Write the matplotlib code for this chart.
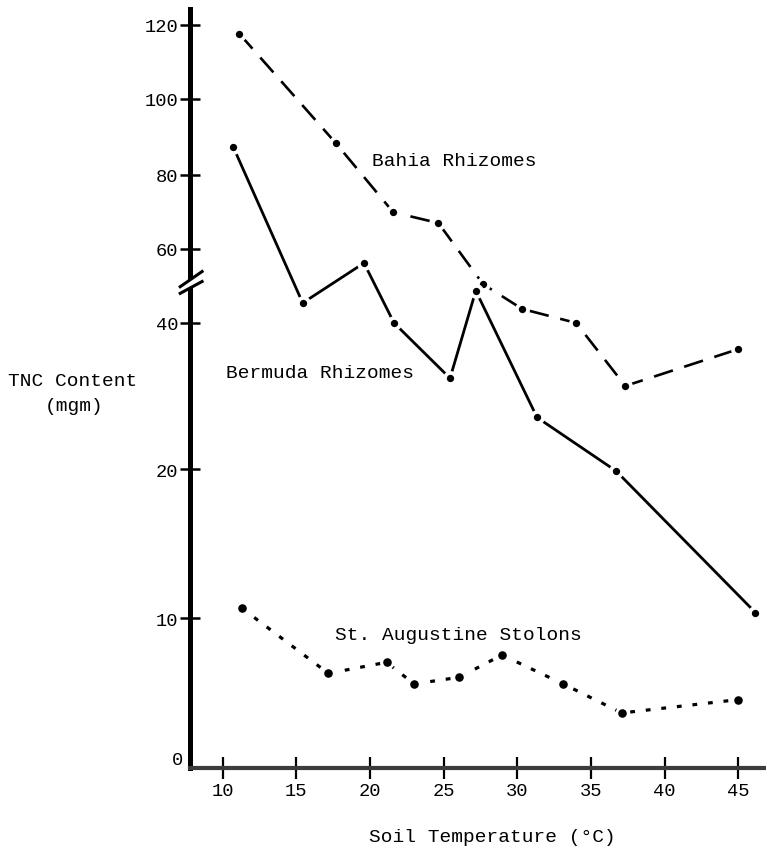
import numpy as np
import matplotlib
matplotlib.use("Agg")
import matplotlib.pyplot as plt
from matplotlib.lines import Line2D

# ---------------- data ----------------
bahia_x = [11.13, 17.67, 21.58, 24.64, 27.67, 30.32, 33.99, 37.33, 44.96]
bahia_y = [117.6, 88.4, 69.9, 67.0, 50.5, 43.8, 40.0, 31.4, 36.4]

bermuda_x = [10.72, 15.43, 19.59, 21.63, 25.43, 27.18, 31.34, 36.70, 46.16]
bermuda_y = [87.3, 45.4, 56.2, 40.0, 32.45, 48.7, 27.1, 19.9, 10.4]

staug_x = [11.29, 17.17, 21.13, 22.99, 26.06, 28.96, 33.12, 37.09, 44.96]
staug_y = [10.7, 6.33, 7.07, 5.62, 6.07, 7.56, 5.62, 3.68, 4.57]

x_ticks = [10, 15, 20, 25, 30, 35, 40, 45]
y_ticks = [10, 20, 40, 60, 80, 100, 120]

series_labels = ["Bahia Rhizomes", "Bermuda Rhizomes", "St. Augustine Stolons"]

# ---------------- broken / piecewise y-axis scale ----------------
VAL_ANCH = np.array([-100, 0, 10, 20, 40, 60, 80, 100, 120, 300], dtype=float)
POS_ANCH = np.array([-1495, 0, 149.5, 298.5, 445, 519, 593, 669, 743, 1409], dtype=float)

def fwd(v):
    return np.interp(v, VAL_ANCH, POS_ANCH)

def inv(p):
    return np.interp(p, POS_ANCH, VAL_ANCH)

MONO = ["Liberation Mono", "DejaVu Sans Mono"]
plt.rcParams["font.family"] = MONO

W, H = 766, 854
fig = plt.figure(figsize=(W / 100, H / 100), dpi=100)
fig.patch.set_facecolor("white")

ax_left, ax_right, ax_top, ax_bot = 190, 766, 10, 769
ax = fig.add_axes([ax_left / W, (H - ax_bot) / H, (ax_right - ax_left) / W, (ax_bot - ax_top) / H])
ax.set_yscale("function", functions=(fwd, inv))
ax.set_xlim(7.78, 46.88)
ax.set_ylim(0, 124.3)

for s in ["top", "right"]:
    ax.spines[s].set_visible(False)
ax.spines["left"].set_linewidth(3.6)
ax.spines["left"].set_color("black")
ax.spines["bottom"].set_linewidth(3.0)
ax.spines["bottom"].set_color("#3c3c3c")

ax.set_xticks(x_ticks)
ax.set_xticklabels([str(t) for t in x_ticks])
ax.set_yticks(y_ticks)
ax.set_yticklabels([str(t) for t in y_ticks])
ax.tick_params(axis="y", direction="inout", length=15, width=1.8, pad=1, labelsize=13.5, colors="black")
ax.tick_params(axis="x", direction="inout", length=16, width=1.6, pad=2, labelsize=13.5, colors="black")
ax.yaxis.set_minor_locator(matplotlib.ticker.NullLocator())
ax.xaxis.set_minor_locator(matplotlib.ticker.NullLocator())

# "0" label at the origin
ax.text(-0.012, 0, "0", transform=ax.get_yaxis_transform(), ha="right", va="bottom",
        fontsize=13.5, color="black")

# axis break mark
br = ax.get_yaxis_transform()
y1a, y1b = 49.8, 53.9
y2a, y2b = 48.0, 51.2
ax.fill([-0.017, 0.021, 0.021, -0.017], [y1a, y1b, y2b, y2a], color="white",
        transform=br, clip_on=False, zorder=5)
ax.add_line(Line2D([-0.017, 0.021], [y1a, y1b], transform=br, color="black", lw=2.2,
                   clip_on=False, zorder=6))
ax.add_line(Line2D([-0.017, 0.021], [y2a, y2b], transform=br, color="black", lw=2.2,
                   clip_on=False, zorder=6))

# ---------------- series ----------------
ax.plot(bahia_x, bahia_y, color="black", lw=1.9, linestyle=(0, (7.5, 4.5)), zorder=3, clip_on=False)
ax.plot(bermuda_x, bermuda_y, color="black", lw=2.0, linestyle="-", zorder=3, clip_on=False)
ax.plot(staug_x, staug_y, color="black", lw=2.3, linestyle=(0, (1.5, 3.4)), zorder=3, clip_on=False)

mk = dict(linestyle="none", marker="o", mfc="black", mec="white", zorder=4, clip_on=False)
ax.plot(bahia_x, bahia_y, ms=8.0, mew=2.7, **mk)
ax.plot(bermuda_x, bermuda_y, ms=8.0, mew=2.7, **mk)
ax.plot(staug_x, staug_y, ms=8.2, mew=2.0, **mk)

# ---------------- series labels ----------------
def place(px, py, s, **kw):
    fig.text(px / W, 1 - py / H, s, fontsize=14, color="black", **kw)

place(372, 162, series_labels[0], ha="left", va="center")
place(226, 374, series_labels[1], ha="left", va="center")
place(335, 636, series_labels[2], ha="left", va="center")

# axis titles
place(73, 382, "TNC Content", ha="center", va="center")
place(74, 407, "(mgm)", ha="center", va="center")
place(492, 838, "Soil Temperature (°C)", ha="center", va="center")

fig.savefig("out.png", dpi=100, facecolor="white")
